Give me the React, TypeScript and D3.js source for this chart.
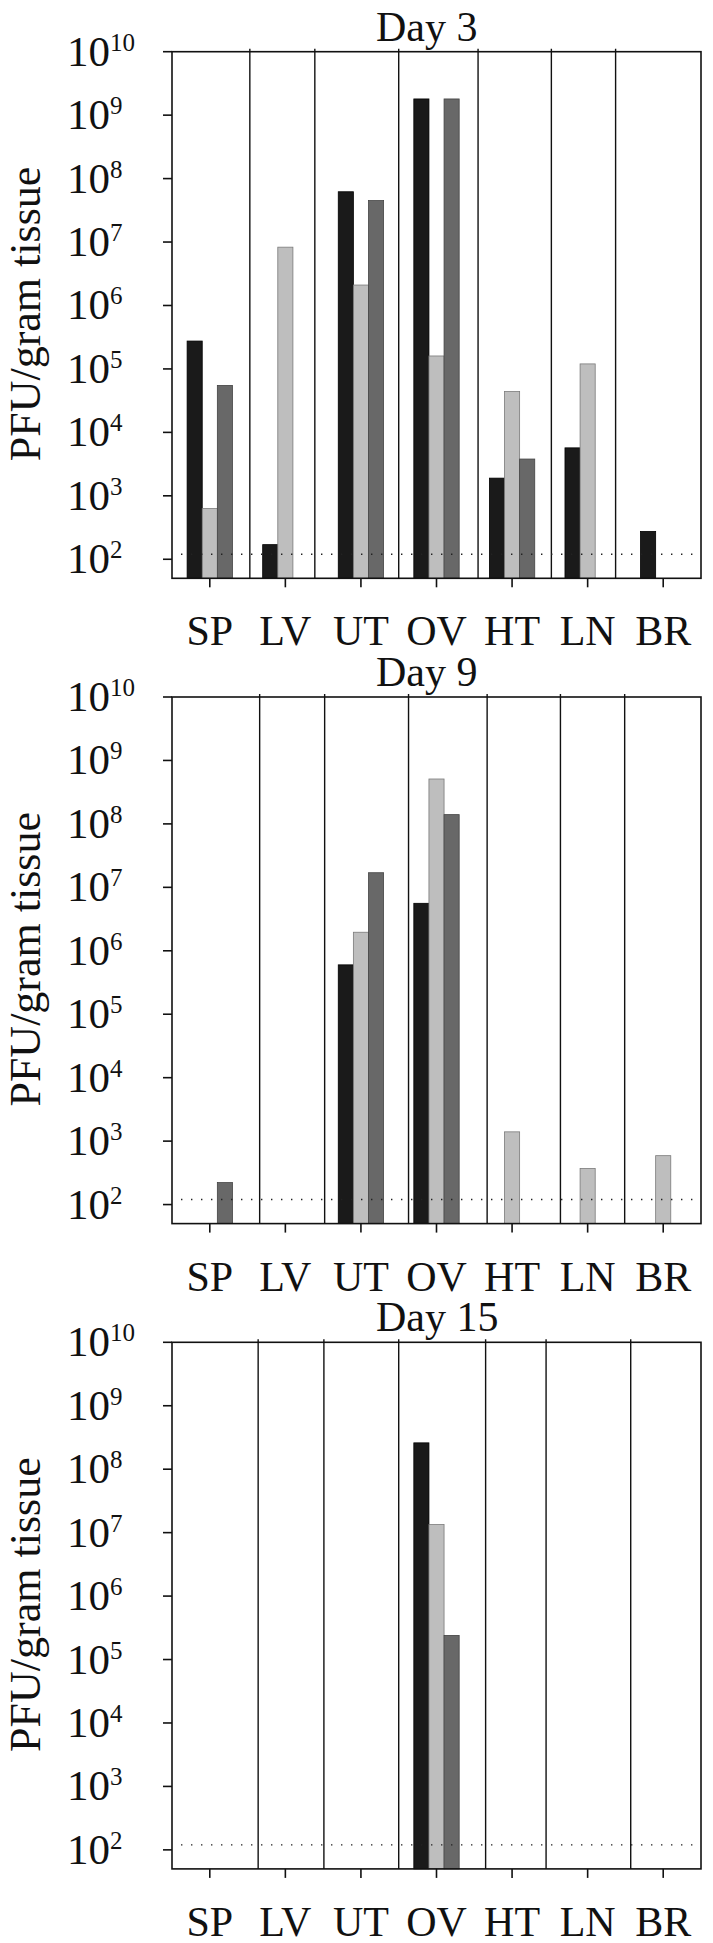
import React from 'react';
import * as d3 from 'd3';

// organs sampled
const categories = ['SP', 'LV', 'UT', 'OV', 'HT', 'LN', 'BR'];
const dayTitles = ['Day 3', 'Day 9', 'Day 15'];

// PFU/gram tissue, null = nothing detected (three series per day)
const day3Black = [2.75e5, 170, 6.2e7, 1.8e9, 1.9e3, 5.7e3, 275];
const day3Light = [630, 8.3e6, 2.1e6, 1.6e5, 4.4e4, 1.2e5, null];
const day3Dark = [5.5e4, null, 4.5e7, 1.8e9, 3.8e3, null, null];

const day9Black = [null, null, 6.0e5, 5.6e6, null, null, null];
const day9Light = [null, null, 1.96e6, 5.1e8, 1.4e3, 370, 590];
const day9Dark = [222, null, 1.7e7, 1.4e8, null, null, null];

const day15Black = [null, null, null, 2.6e8, null, null, null];
const day15Light = [null, null, null, 1.34e7, null, null, null];
const day15Dark = [null, null, null, 2.4e5, null, null, null];

// detection limit (dotted line)
const detectionLimit = 120;

// y tick exponents
const tickExponents = [2, 3, 4, 5, 6, 7, 8, 9, 10];

// hand-drawn separators, in category units (0..7)
const day3Separators = [1.03, 1.89, 3.0, 4.05, 5.02, 5.87];
const day9Separators = [1.16, 2.02, 3.13, 4.17, 5.14, 5.99];
const day15Separators = [1.14, 2.01, 3.0, 4.15, 4.95, 6.07];

const panels = [
  { title: dayTitles[0], series: [day3Black, day3Light, day3Dark], separators: day3Separators },
  { title: dayTitles[1], series: [day9Black, day9Light, day9Dark], separators: day9Separators },
  { title: dayTitles[2], series: [day15Black, day15Light, day15Dark], separators: day15Separators },
];

const seriesFill = ['#1a1a1a', '#bebebe', '#686868'];
const seriesStroke = ['#000', '#7a7a7a', '#444'];

const W = 713;
const H = 1943;
const left = 172;
const right = 701;
const plotH = 526.6;
const panelTops = [51.7, 697, 1342.3];
const font = '"Liberation Serif", "Times New Roman", serif';

const Panel = ({ panel, top }) => {
  const x = d3.scaleBand().domain(categories).range([left, right]).padding(0);
  const xs = d3.scaleLinear().domain([0, categories.length]).range([left, right]);
  const y = d3.scaleLog().domain([Math.pow(10, 1.7), 1e10]).range([plotH, 0]);
  const bw = x.bandwidth();
  const barW = bw * 0.2;
  const bottom = plotH;

  return (
    <g transform={`translate(0,${top})`}>
      <text x={376} y={-11} fontSize={42} fontFamily={font} fill="#111">
        {panel.title}
      </text>

      {/* y label */}
      <text
        transform={`translate(40,${plotH / 2 - 1}) rotate(-90)`}
        textAnchor="middle"
        fontSize={44}
        fontFamily={font}
        fill="#111"
      >
        PFU/gram tissue
      </text>

      {/* separators */}
      {panel.separators.map((s, i) => (
        <line key={'s' + i} x1={xs(s)} x2={xs(s)} y1={-3} y2={bottom} stroke="#111" strokeWidth={1.4} />
      ))}

      {/* bars */}
      {panel.series.map((vals, si) =>
        vals.map((v, ci) => {
          if (v == null) return null;
          const cx = x(categories[ci]) + bw / 2;
          const bx = cx - 1.5 * barW + si * barW;
          const by = y(v);
          return (
            <rect
              key={`b${si}-${ci}`}
              x={bx}
              y={by}
              width={barW}
              height={bottom - by}
              fill={seriesFill[si]}
              stroke={seriesStroke[si]}
              strokeWidth={0.8}
            />
          );
        })
      )}

      {/* detection limit */}
      <line
        x1={181}
        x2={694}
        y1={y(detectionLimit)}
        y2={y(detectionLimit)}
        stroke="#222"
        strokeWidth={1.4}
        strokeDasharray="1.4 8.6"
      />

      {/* frame */}
      <rect x={left} y={0} width={right - left} height={plotH} fill="none" stroke="#111" strokeWidth={1.6} />

      {/* y ticks */}
      {tickExponents.map((e) => {
        const ty = y(Math.pow(10, e));
        return (
          <g key={'t' + e}>
            <line x1={left - 9} x2={left} y1={ty} y2={ty} stroke="#111" strokeWidth={1.6} />
            <text x={67} y={ty + 14} fontSize={43} fontFamily={font} fill="#111">
              10
              <tspan fontSize={25} dy={-15}>
                {e}
              </tspan>
            </text>
          </g>
        );
      })}

      {/* x ticks + labels */}
      {categories.map((c) => {
        const cx = x(c) + bw / 2;
        return (
          <g key={c}>
            <line x1={cx} x2={cx} y1={bottom} y2={bottom + 9} stroke="#111" strokeWidth={1.6} />
            <text x={cx} y={bottom + 67} textAnchor="middle" fontSize={42} fontFamily={font} fill="#111">
              {c}
            </text>
          </g>
        );
      })}
    </g>
  );
}

export default function App() {
  return (
    <svg
      width={W}
      height={H}
      style={{ position: 'absolute', left: 0, top: 0, background: '#fff' }}
    >
      <rect width={W} height={H} fill="#fff" />
      {panels.map((p, i) => (
        <Panel key={p.title} panel={p} top={panelTops[i]} />
      ))}
    </svg>
  );
}
